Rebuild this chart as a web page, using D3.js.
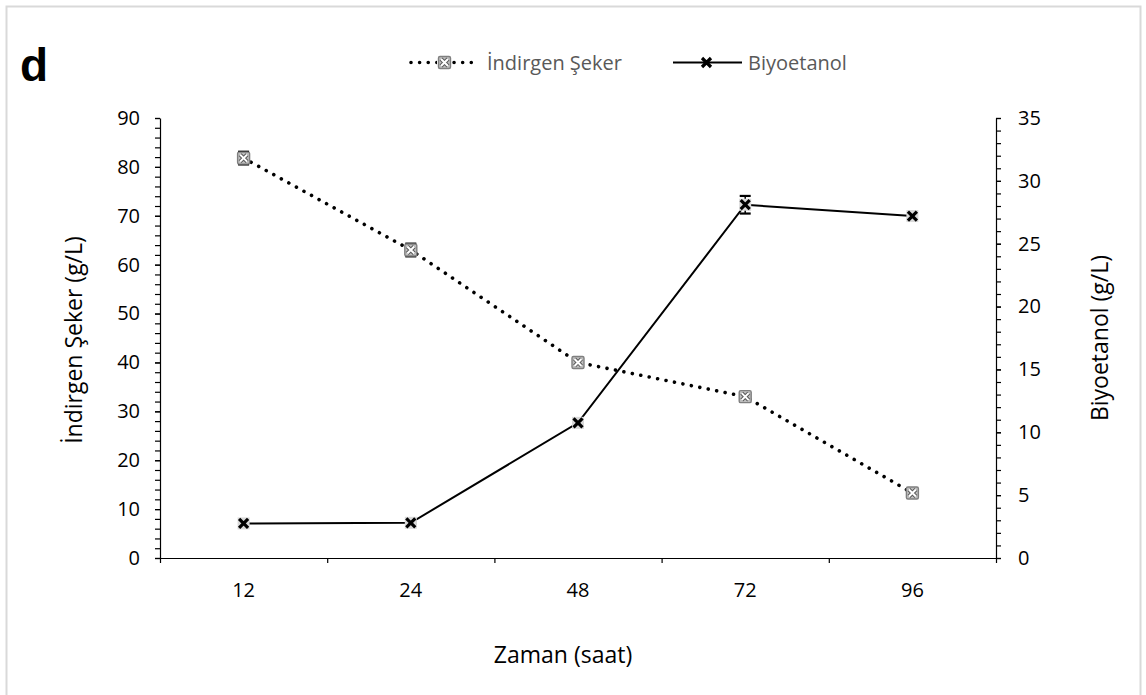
<!DOCTYPE html>
<html>
<head>
<meta charset="utf-8">
<script src="https://cdn.jsdelivr.net/npm/d3@7"></script>
<style>
  html, body { margin: 0; padding: 0; background: #fff; }
  svg { display: block; font-family: "Open Sans", "Noto Sans", sans-serif; }
</style>
</head>
<body>
<svg id="chart" width="1146" height="695"></svg>
<script>
// Sampling times (hours)
const categories = ["12", "24", "48", "72", "96"];
// Reducing sugar (g/L) with error
const sugar = [81.8, 63, 40, 33, 13.3];
const sugarErr = [1.3, 1.3, 0.5, 0.5, 0.3];
// Bioethanol (g/L) with error
const ethanol = [2.75, 2.8, 10.75, 28.1, 27.2];
const ethanolErr = [0.1, 0.1, 0.3, 0.7, 0.2];
// Axis tick values
const leftTicks = [0, 10, 20, 30, 40, 50, 60, 70, 80, 90];
const rightTicks = [0, 5, 10, 15, 20, 25, 30, 35];

(function draw() {
const svg = d3.select("#chart");
const plotLeft = 160, plotRight = 996, plotTop = 118, plotBottom = 558;

// Outer frame
svg.append("rect")
  .attr("x", 6.5).attr("y", 6.5)
  .attr("width", 1134).attr("height", 720)
  .attr("fill", "none").attr("stroke", "#d9d9d9").attr("stroke-width", 2);

// Panel letter
svg.append("text")
  .attr("x", 20).attr("y", 81)
  .attr("font-family", "'Liberation Sans', Arial, sans-serif")
  .attr("font-weight", "bold").attr("font-size", 46)
  .text("d");

const x = d3.scaleBand().domain(categories).range([plotLeft, plotRight]);
const cx = c => x(c) + x.bandwidth() / 2;
const yL = d3.scaleLinear().domain([0, 90]).range([plotBottom, plotTop]);
const yR = d3.scaleLinear().domain([0, 35]).range([plotBottom, plotTop]);

function styleAxis(g) {
  g.selectAll("path, line").attr("stroke", "#000").attr("stroke-width", 1.2);
  g.selectAll("text").attr("fill", "#000").attr("font-size", 20)
    .attr("font-family", "'Open Sans', sans-serif");
}

// Left axis: minor ticks then major ticks with labels
svg.append("g").attr("transform", `translate(${plotLeft},0)`)
  .call(d3.axisLeft(yL).tickValues(d3.range(0, 91, 2)).tickFormat("").tickSize(5).tickSizeOuter(0))
  .call(styleAxis);
svg.append("g").attr("transform", `translate(${plotLeft},0)`)
  .call(d3.axisLeft(yL).tickValues(leftTicks).tickSize(5).tickPadding(15).tickSizeOuter(0))
  .call(styleAxis).call(g => g.select(".domain").remove());

// Right axis
svg.append("g").attr("transform", `translate(${plotRight},0)`)
  .call(d3.axisRight(yR).tickValues(d3.range(0, 35.5, 1)).tickFormat("").tickSize(5).tickSizeOuter(0))
  .call(styleAxis);
svg.append("g").attr("transform", `translate(${plotRight},0)`)
  .call(d3.axisRight(yR).tickValues(rightTicks).tickSize(5).tickPadding(17).tickSizeOuter(0))
  .call(styleAxis).call(g => g.select(".domain").remove());

// Bottom axis: band-boundary ticks plus centred category labels
const xb = d3.scaleLinear().domain([0, categories.length]).range([plotLeft, plotRight]);
svg.append("g").attr("transform", `translate(0,${plotBottom})`)
  .call(d3.axisBottom(xb).ticks(categories.length).tickFormat("").tickSize(5).tickSizeOuter(0))
  .call(styleAxis);
svg.append("g").attr("transform", `translate(0,${plotBottom})`)
  .call(d3.axisBottom(x).tickSize(0).tickPadding(25))
  .call(styleAxis).call(g => g.select(".domain").remove());

// Axis titles
svg.append("text")
  .attr("x", (plotLeft + plotRight) / 2 - 15).attr("y", 663)
  .attr("text-anchor", "middle").attr("font-size", 23).attr("fill", "#000")
  .text("Zaman (saat)");
svg.append("text")
  .attr("transform", "translate(82,340) rotate(-90)")
  .attr("text-anchor", "middle").attr("font-size", 23).attr("fill", "#000")
  .text("İndirgen Şeker (g/L)");
svg.append("text")
  .attr("transform", "translate(1108,338) rotate(-90)")
  .attr("text-anchor", "middle").attr("font-size", 23).attr("fill", "#000")
  .text("Biyoetanol (g/L)");

// Marker helpers
function sugarMarker(g, px, py) {
  g.append("rect").attr("x", px - 6).attr("y", py - 6).attr("width", 12).attr("height", 12)
    .attr("rx", 1.5).attr("fill", "#bfbfbf").attr("stroke", "#7f7f7f").attr("stroke-width", 1.4);
  const d = `M${px - 3.5},${py - 3.5}L${px + 3.5},${py + 3.5}M${px + 3.5},${py - 3.5}L${px - 3.5},${py + 3.5}`;
  g.append("path").attr("d", d).attr("stroke", "#5a5a5a").attr("stroke-width", 4).attr("fill", "none");
  g.append("path").attr("d", d).attr("stroke", "#fff").attr("stroke-width", 2).attr("fill", "none");
}
function ethanolMarker(g, px, py, box) {
  if (box) {
    g.append("rect").attr("x", px - 6).attr("y", py - 6).attr("width", 12).attr("height", 12)
      .attr("fill", "#d9d9d9");
  }
  const d = `M${px - 4.5},${py - 4.5}L${px + 4.5},${py + 4.5}M${px + 4.5},${py - 4.5}L${px - 4.5},${py + 4.5}`;
  g.append("path").attr("d", d).attr("stroke", "#000").attr("stroke-width", 3.2).attr("fill", "none");
}
function errorBars(g, xs, vals, errs, scale) {
  vals.forEach((v, i) => {
    const px = cx(xs[i]);
    const y1 = scale(v - errs[i]), y2 = scale(v + errs[i]);
    g.append("line").attr("x1", px).attr("x2", px).attr("y1", y1).attr("y2", y2)
      .attr("stroke", "#000").attr("stroke-width", 1.5);
    [y1, y2].forEach(yy => g.append("line")
      .attr("x1", px - 5.5).attr("x2", px + 5.5).attr("y1", yy).attr("y2", yy)
      .attr("stroke", "#000").attr("stroke-width", 2.2));
  });
}

// Reducing sugar series (dotted)
const plot = svg.append("g");
plot.append("path")
  .datum(sugar)
  .attr("d", d3.line().x((d, i) => cx(categories[i])).y(d => yL(d)))
  .attr("fill", "none").attr("stroke", "#000").attr("stroke-width", 3.6)
  .attr("stroke-linecap", "round").attr("stroke-dasharray", "0.01 8.6");

// Bioethanol series (solid)
plot.append("path")
  .datum(ethanol)
  .attr("d", d3.line().x((d, i) => cx(categories[i])).y(d => yR(d)))
  .attr("fill", "none").attr("stroke", "#000").attr("stroke-width", 2);

errorBars(plot, categories, sugar, sugarErr, yL);
errorBars(plot, categories, ethanol, ethanolErr, yR);
sugar.forEach((v, i) => sugarMarker(plot, cx(categories[i]), yL(v)));
ethanol.forEach((v, i) => ethanolMarker(plot, cx(categories[i]), yR(v), true));

// Legend
const lg = svg.append("g");
lg.append("line").attr("x1", 411).attr("x2", 478).attr("y1", 62.5).attr("y2", 62.5)
  .attr("stroke", "#000").attr("stroke-width", 3.6)
  .attr("stroke-linecap", "round").attr("stroke-dasharray", "0.01 8.6");
lg.append("rect").attr("x", 437).attr("y", 55).attr("width", 15).attr("height", 15).attr("fill", "#fff");
sugarMarker(lg, 444.5, 62.5);
lg.append("text").attr("x", 487).attr("y", 62.5).attr("dy", "0.36em")
  .attr("font-size", 20).attr("fill", "#595959").text("İndirgen Şeker");
lg.append("line").attr("x1", 673).attr("x2", 742).attr("y1", 62.5).attr("y2", 62.5)
  .attr("stroke", "#000").attr("stroke-width", 2);
ethanolMarker(lg, 706.5, 62.5, false);
lg.append("text").attr("x", 748).attr("y", 62.5).attr("dy", "0.36em")
  .attr("font-size", 20).attr("fill", "#595959").text("Biyoetanol");
})();
</script>
</body>
</html>
